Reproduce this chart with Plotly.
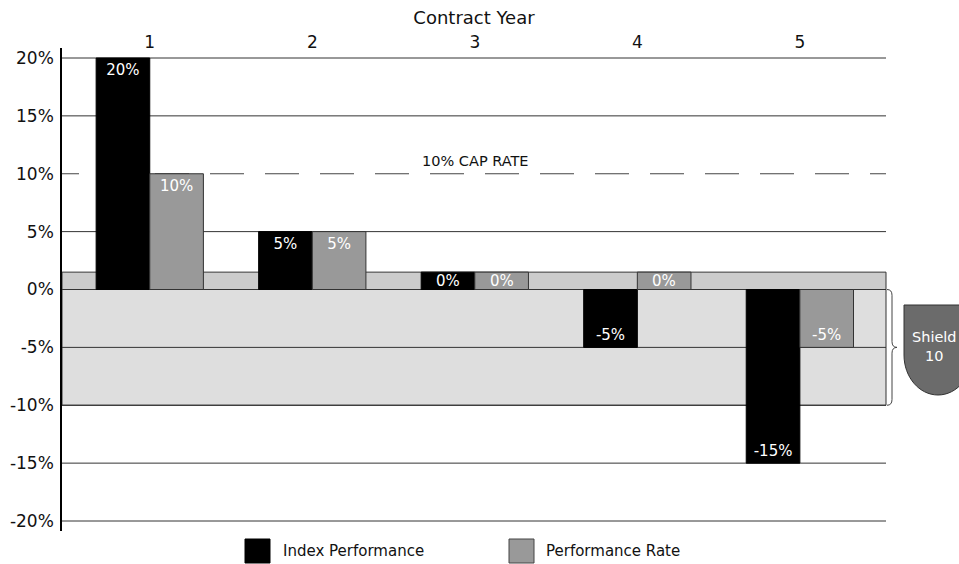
import plotly.graph_objects as go

# ---- data ----
YEARS = ["1", "2", "3", "4", "5"]
INDEX_PERF = [20, 5, 0, -5, -15]
PERF_RATE = [10, 5, 0, 0, -5]
SERIES_NAMES = ["Index Performance", "Performance Rate"]
Y_TICKS = [20, 15, 10, 5, 0, -5, -10, -15, -20]
CAP_RATE = 10
SHIELD = 10
ZERO_BAR = 1.5  # visual height used to show a 0% result

# ---- geometry (page pixels) ----
W, H = 959, 564
PL, PR, PT, PB = 62, 886, 48, 531  # plot area in page pixels
PW, PH = PR - PL, PB - PT
X_RANGE = [-0.54, 4.53]


def px(x):
    return (x - PL) / PW


def py(y):
    return (PB - y) / PH


FONT = "DejaVu Sans"
TXT = "#111111"
BLACK = "#000000"
GRAY = "#999999"


def disp(vals):
    return [v if v != 0 else ZERO_BAR for v in vals]


def labels(vals):
    return [f"{v}%" if v != 0 else "" for v in vals]


fig = go.Figure()
annotations = []
BAR_W = 0.33
cat_px = PW / (X_RANGE[1] - X_RANGE[0])
for k, (name, vals, color, lc) in enumerate([
    (SERIES_NAMES[0], INDEX_PERF, BLACK, "#000000"),
    (SERIES_NAMES[1], PERF_RATE, GRAY, "#333333"),
]):
    fig.add_trace(go.Bar(
        x=YEARS, y=disp(vals), name=name,
        marker=dict(color=color, line=dict(color=lc, width=1)),
        text=labels(vals), textposition="inside", insidetextanchor="end",
        constraintext="none",
        textfont=dict(color="white", size=15, family=FONT),
        hoverinfo="skip",
    ))
    shift = (k - 0.5) * BAR_W * cat_px
    for i, v in enumerate(vals):
        if v == 0:
            annotations.append(dict(text=f"{v}%", xref="x", yref="y", x=i, y=ZERO_BAR / 2,
                                    xshift=shift, xanchor="center", showarrow=False,
                                    font=dict(color="white", size=15, family=FONT)))

shapes = []
# shield bands
shapes.append(dict(type="rect", xref="paper", yref="y", x0=0, x1=1, y0=0, y1=ZERO_BAR,
                   fillcolor="#cccccc", line=dict(color="#333333", width=1), layer="below"))
shapes.append(dict(type="rect", xref="paper", yref="y", x0=0, x1=1, y0=-SHIELD, y1=0,
                   fillcolor="#dedede", line=dict(color="#333333", width=1), layer="below"))
# grid lines (except cap rate which is dashed)
for t in Y_TICKS:
    if t == CAP_RATE:
        continue
    shapes.append(dict(type="line", xref="paper", yref="y", x0=0, x1=1, y0=t, y1=t,
                       line=dict(color="#333333", width=1), layer="below"))
dash = "17px,21px," + ",".join(["34px,21px"] * 16)
shapes.append(dict(type="line", xref="paper", yref="y", x0=0, x1=1, y0=CAP_RATE, y1=CAP_RATE,
                   line=dict(color="#444444", width=1, dash=dash), layer="below"))

# brace
x0 = 1 + 1 / PW
x1 = 1 + 6 / PW
x2 = 1 + 11 / PW
mid = -SHIELD / 2
brace = (f"M {x0},0 Q {x1},0 {x1},-0.5 L {x1},{mid + 0.5} Q {x1},{mid} {x2},{mid} "
         f"Q {x1},{mid} {x1},{mid - 0.5} L {x1},{-SHIELD + 0.5} Q {x1},{-SHIELD} {x0},{-SHIELD}")
shapes.append(dict(type="path", xref="paper", yref="y", path=brace,
                   line=dict(color="#444444", width=1)))

# shield badge
sl, sr, st, sm, sb = 904, 972, 305, 355, 395
sc = (sl + sr) / 2
kk = 0.5523
rx, ry = (sr - sl) / 2, sb - sm
shield = (f"M {px(sl)},{py(st)} L {px(sr)},{py(st)} L {px(sr)},{py(sm)} "
          f"C {px(sr)},{py(sm + kk * ry)} {px(sc + kk * rx)},{py(sb)} {px(sc)},{py(sb)} "
          f"C {px(sc - kk * rx)},{py(sb)} {px(sl)},{py(sm + kk * ry)} {px(sl)},{py(sm)} Z")
shapes.append(dict(type="path", xref="paper", yref="paper", path=shield,
                   fillcolor="#6b6b6b", line=dict(color="#333333", width=1)))

# legend swatches
for xl, color, lc in [(245, BLACK, "#000000"), (509, GRAY, "#444444")]:
    shapes.append(dict(type="rect", xref="paper", yref="paper",
                       x0=px(xl), x1=px(xl + 25), y0=py(563), y1=py(539),
                       fillcolor=color, line=dict(color=lc, width=1)))

annotations += [
    dict(text=f"{CAP_RATE}% CAP RATE", xref="paper", yref="y", x=px(475), y=CAP_RATE,
         xanchor="center", yanchor="bottom", yshift=3, showarrow=False,
         font=dict(family=FONT, size=14.5, color=TXT)),
    dict(text=f"Shield<br>{SHIELD}", xref="paper", yref="paper", x=px(934), y=py(346),
         xanchor="center", yanchor="middle", showarrow=False,
         font=dict(family=FONT, size=14.5, color="white")),
    dict(text=SERIES_NAMES[0], xref="paper", yref="paper", x=px(281), y=py(551),
         xanchor="left", yanchor="middle", showarrow=False,
         font=dict(family=FONT, size=15, color=TXT)),
    dict(text=SERIES_NAMES[1], xref="paper", yref="paper", x=px(544), y=py(551),
         xanchor="left", yanchor="middle", showarrow=False,
         font=dict(family=FONT, size=15, color=TXT)),
]

y_span = 20 + (58 - PT) * 40 / (521 - 58)
fig.update_layout(
    width=W, height=H,
    margin=dict(l=PL, r=W - PR, t=PT, b=H - PB, pad=0, autoexpand=False),
    paper_bgcolor="white", plot_bgcolor="white",
    barmode="group", bargap=1 - 2 * BAR_W, bargroupgap=0,
    showlegend=False,
    shapes=shapes, annotations=annotations,
    font=dict(family=FONT, color=TXT),
    xaxis=dict(side="top", type="category", range=X_RANGE, automargin=False,
               showgrid=False, zeroline=False, showline=False, ticks="",
               ticklabelstandoff=-4,
               tickfont=dict(size=17, family=FONT),
               title=dict(text="Contract Year", font=dict(size=18, family=FONT), standoff=2)),
    yaxis=dict(range=[-y_span, y_span], tickvals=Y_TICKS, automargin=False,
               ticktext=[f"{t}%" for t in Y_TICKS],
               showgrid=False, zeroline=False, showline=True, linecolor="#000000", linewidth=1.5,
               ticks="", ticklabelstandoff=3, tickfont=dict(size=17, family=FONT)),
)

fig.write_html("out.html",
               config={"displayModeBar": False},
               post_script="document.body.style.margin='0px';document.body.style.overflow='hidden';")
